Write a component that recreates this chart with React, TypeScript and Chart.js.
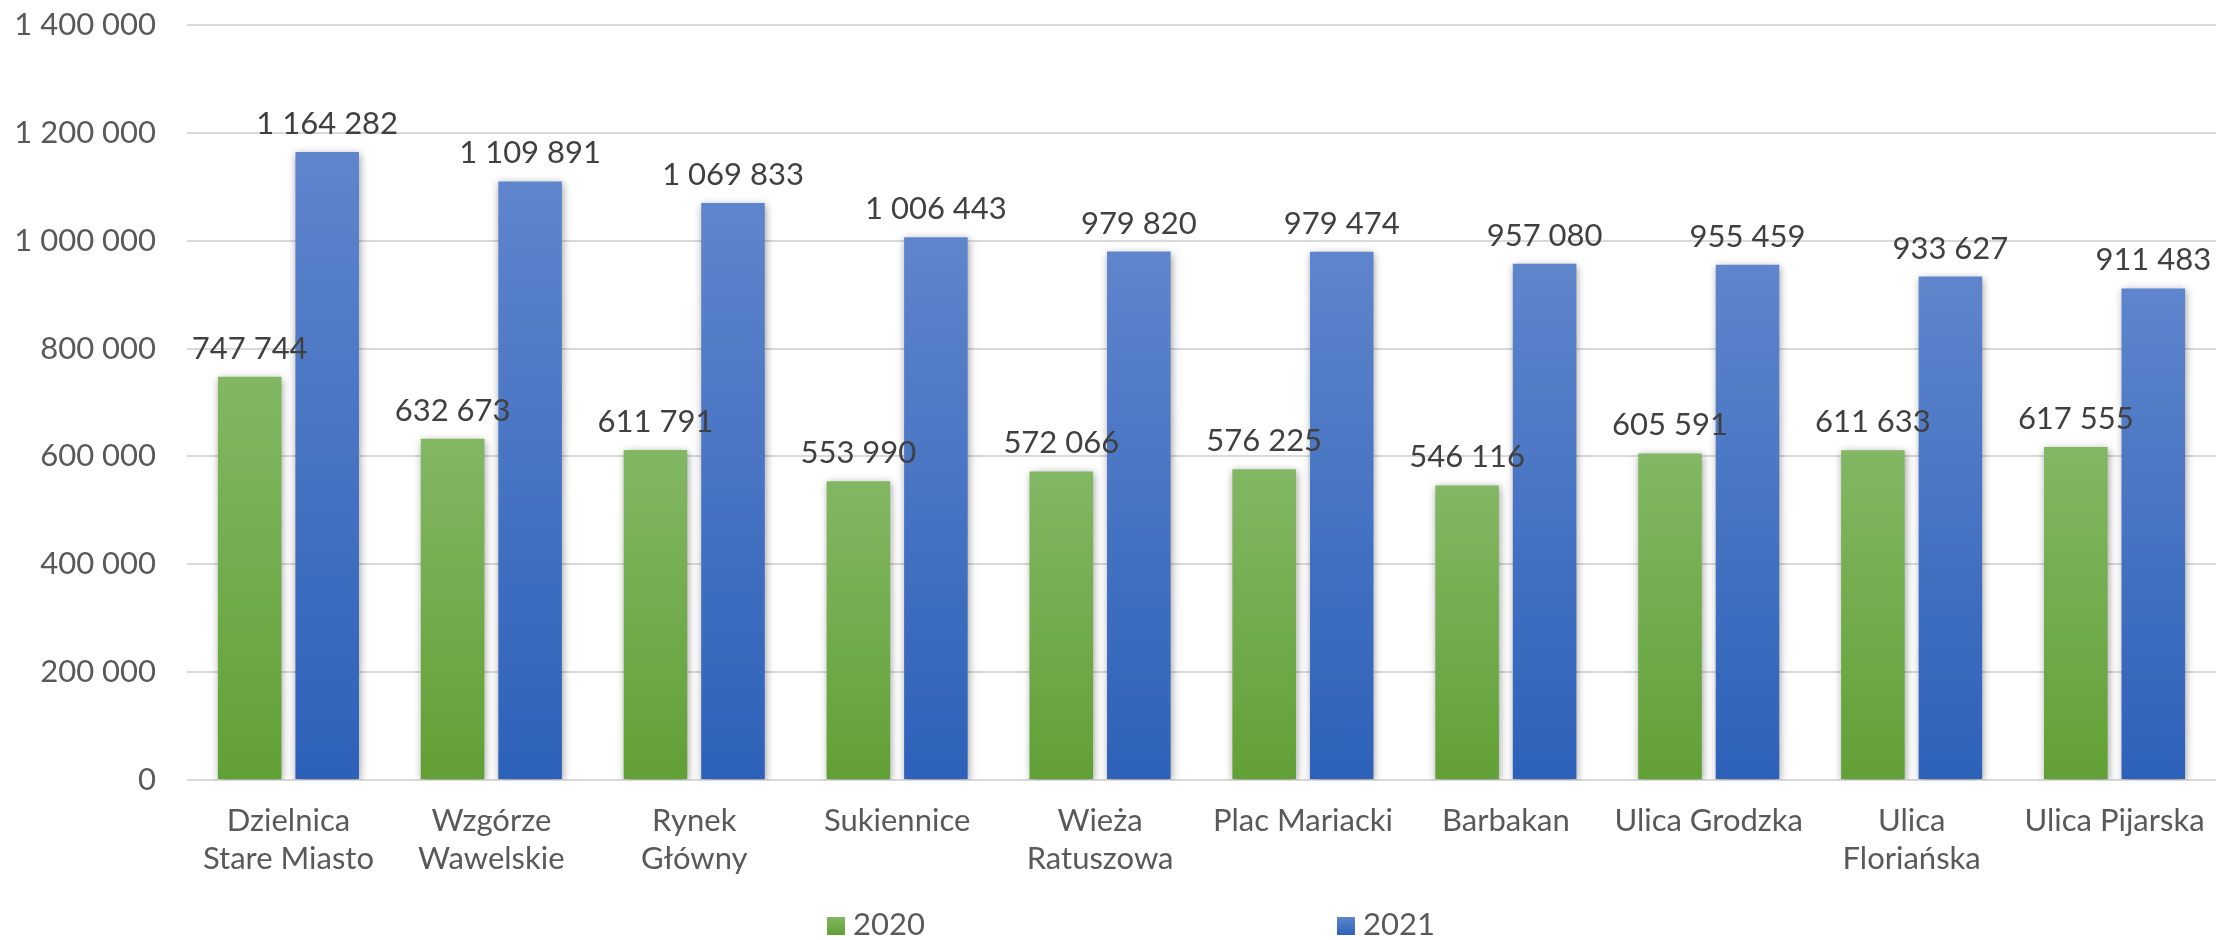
import React, { useEffect, useRef } from "react";
import { Chart, registerables } from "chart.js";

Chart.register(...registerables);

const categories: (string | string[])[] = [
  ["Dzielnica", "Stare Miasto"],
  ["Wzgórze", "Wawelskie"],
  ["Rynek", "Główny"],
  "Sukiennice",
  ["Wieża", "Ratuszowa"],
  "Plac Mariacki",
  "Barbakan",
  "Ulica Grodzka",
  ["Ulica", "Floriańska"],
  "Ulica Pijarska",
];

const seriesLabels = ["2020", "2021"];
const values2020 = [747744, 632673, 611791, 553990, 572066, 576225, 546116, 605591, 611633, 617555];
const values2021 = [1164282, 1109891, 1069833, 1006443, 979820, 979474, 957080, 955459, 933627, 911483];

const yMax = 1400000;
const yStep = 200000;

const FONT = "Lato, 'Noto Sans', sans-serif";
const FONT_SIZE = 31;

const gradStops = [
  ["#82b763", "#61a035"],
  ["#5f85cc", "#2d61b9"],
];

const fmt = (v: number) => String(Math.round(v)).replace(/\B(?=(\d{3})+(?!\d))/g, " ");

function barGradient(idx: number) {
  return (ctx: any) => {
    const chart = ctx.chart;
    const area = chart.chartArea;
    const fallback = gradStops[idx][1];
    if (!area || ctx.type !== "data" || !chart.scales.y) return fallback;
    const ys = chart.scales.y;
    const top = ys.getPixelForValue(ctx.raw);
    const bottom = ys.getPixelForValue(0);
    if (!isFinite(top) || !isFinite(bottom) || bottom - top < 1) return fallback;
    const g = chart.ctx.createLinearGradient(0, top, 0, bottom);
    g.addColorStop(0, gradStops[idx][0]);
    g.addColorStop(1, gradStops[idx][1]);
    return g;
  };
}

const decorPlugin = {
  id: "decor",
  beforeDatasetsDraw(chart: any) {
    const c = chart.ctx;
    c.save();
    c.shadowColor = "rgba(0,0,0,0.38)";
    c.shadowBlur = 8;
    c.shadowOffsetX = 1;
    c.shadowOffsetY = 2;
  },
  afterDatasetsDraw(chart: any) {
    const c = chart.ctx;
    c.restore();
    c.save();
    c.font = `${FONT_SIZE}px ${FONT}`;
    c.fillStyle = "#404040";
    c.textAlign = "center";
    c.textBaseline = "alphabetic";
    chart.data.datasets.forEach((ds: any, di: number) => {
      const meta = chart.getDatasetMeta(di);
      meta.data.forEach((bar: any, i: number) => {
        c.fillText(fmt(ds.data[i]), bar.x, bar.y - 18);
      });
    });
    c.restore();
  },
  afterDraw(chart: any) {
    const c = chart.ctx;
    c.save();
    c.font = `${FONT_SIZE}px ${FONT}`;
    c.textBaseline = "alphabetic";
    c.textAlign = "left";
    const startX = chart.width / 2 - 281;
    const step = 510;
    const boxTop = 917;
    const box = 18;
    chart.data.datasets.forEach((ds: any, di: number) => {
      const x = startX + di * step;
      const g = c.createLinearGradient(0, boxTop, 0, boxTop + box);
      g.addColorStop(0, gradStops[di][0]);
      g.addColorStop(1, gradStops[di][1]);
      c.fillStyle = g;
      c.fillRect(x, boxTop, box, box);
      c.fillStyle = "#595959";
      c.fillText(ds.label, x + 26, 935);
    });
    c.restore();
  },
};

export default function App() {
  const canvasRef = useRef<HTMLCanvasElement | null>(null);

  useEffect(() => {
    document.body.style.margin = "0";
    let chart: Chart | null = null;
    let cancelled = false;

    const build = () => {
      if (cancelled || !canvasRef.current) return;
      chart = new Chart(canvasRef.current, {
        type: "bar",
        data: {
          labels: categories as any,
          datasets: [
            {
              label: seriesLabels[0],
              data: values2020,
              backgroundColor: barGradient(0) as any,
              borderWidth: 0,
              categoryPercentage: 0.764,
              barPercentage: 0.82,
            },
            {
              label: seriesLabels[1],
              data: values2021,
              backgroundColor: barGradient(1) as any,
              borderWidth: 0,
              categoryPercentage: 0.764,
              barPercentage: 0.82,
            },
          ],
        },
        options: {
          animation: false,
          responsive: true,
          maintainAspectRatio: false,
          layout: { padding: { top: 25, left: 0, right: 0, bottom: 0 } },
          plugins: {
            legend: { display: false },
            tooltip: { enabled: false },
          },
          scales: {
            x: {
              grid: { display: false, drawTicks: false },
              border: { display: false },
              ticks: {
                color: "#595959",
                font: { family: FONT, size: FONT_SIZE, lineHeight: 1.22 },
                padding: 22,
                maxRotation: 0,
                autoSkip: false,
              },
              afterFit: (scale: any) => {
                scale.height = 160;
                scale.paddingLeft = 0;
                scale.paddingRight = 0;
              },
            },
            y: {
              min: 0,
              max: yMax,
              grid: { color: "#d9d9d9", lineWidth: 2, drawTicks: false },
              border: { display: false },
              ticks: {
                stepSize: yStep,
                color: "#595959",
                font: { family: FONT, size: FONT_SIZE },
                padding: 31,
                callback: (v: any) => fmt(Number(v)),
              },
              afterFit: (scale: any) => {
                scale.width = 187;
                scale.paddingTop = 0;
                scale.paddingBottom = 0;
              },
            },
          },
        },
        plugins: [decorPlugin],
      });
    };

    const fontsApi = (document as any).fonts;
    if (fontsApi && fontsApi.load) {
      fontsApi
        .load(`${FONT_SIZE}px Lato`)
        .then(build, build);
    } else {
      build();
    }

    return () => {
      cancelled = true;
      if (chart) chart.destroy();
    };
  }, []);

  return (
    <div style={{ position: "relative", width: 2216, height: 940 }}>
      <canvas ref={canvasRef} />
    </div>
  );
}
